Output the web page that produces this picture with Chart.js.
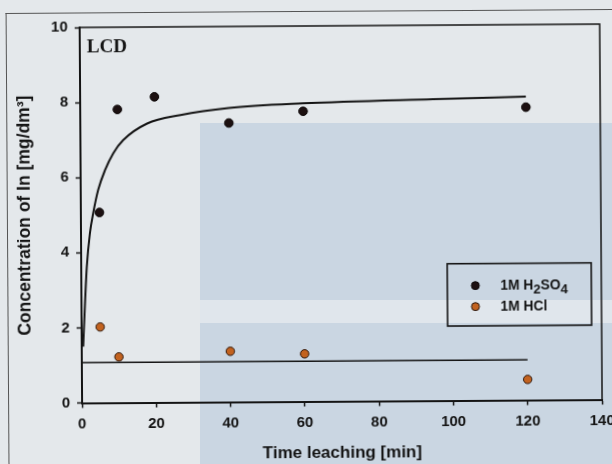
<!DOCTYPE html>
<html>
<head>
<meta charset="utf-8">
<script src="https://cdn.jsdelivr.net/npm/chart.js@4.4.0/dist/chart.umd.min.js"></script>
<style>
html,body{margin:0;padding:0;}
body{width:612px;height:464px;position:relative;overflow:hidden;background:#e4e8eb;}
.bg{position:absolute;}
#frame{position:absolute;left:7px;top:11px;width:640px;height:480px;border-left:1.3px solid #555;border-top:1.3px solid #555;transform:rotate(-0.37deg);transform-origin:299px 221px;}
#wrap{position:absolute;left:0;top:0;width:612px;height:464px;transform:rotate(-0.37deg);transform-origin:306px 232px;}
</style>
</head>
<body>
<div class="bg" style="left:200px;top:123px;width:412px;height:341px;background:#cad6e2"></div>
<div class="bg" style="left:200px;top:300px;width:412px;height:23px;background:#e0e6ec"></div>
<div id="frame"></div>
<div id="wrap"><canvas id="c" width="612" height="464"></canvas></div>
<script>
// ---- data ----
const timeH2SO4 = [5, 10, 20, 40, 60, 120];
const concH2SO4 = [5.07, 7.81, 8.14, 7.43, 7.73, 7.80];
const timeHCl = [5, 10, 40, 60, 120];
const concHCl = [2.02, 1.22, 1.35, 1.27, 0.55];
const fitTimeH2SO4 = [0.4, 0.65, 1.0, 1.5, 2.4, 3.3, 4.7, 6.6, 8.8, 11.5, 18, 27, 40, 60, 95, 120];
const fitConcH2SO4 = [1.5, 2.03, 2.74, 3.62, 4.52, 5.04, 5.67, 6.2, 6.64, 6.99, 7.43, 7.65, 7.83, 7.94, 8.03, 8.08];
const fitTimeHCl = [0, 120];
const fitConcHCl = [1.07, 1.07];
const xTicks = [0, 20, 40, 60, 80, 100, 120, 140];
const yTicks = [0, 2, 4, 6, 8, 10];
const seriesLabels = ['1M H₂SO₄', '1M HCl'];
const panelLabel = 'LCD';
const xTitle = 'Time leaching [min]';
const yTitle = 'Concentration of In [mg/dm³]';

const pts = (xs, ys) => xs.map((v, i) => ({x: v, y: ys[i]}));
const SANS = "'Liberation Sans', Arial, sans-serif";
const INK = '#141414';

function drawRich(ctx, text, x, y, size) {
  const subs = '₀₁₂₃₄₅₆₇₈₉';
  let cx = x;
  for (const ch of text) {
    const k = subs.indexOf(ch);
    if (k >= 0) {
      ctx.font = `bold ${size * 0.95}px ${SANS}`;
      ctx.fillText(String(k), cx, y + size * 0.32);
      cx += ctx.measureText(String(k)).width;
    } else {
      ctx.font = `bold ${size}px ${SANS}`;
      ctx.fillText(ch, cx, y);
      cx += ctx.measureText(ch).width;
    }
  }
}

const decorPlugin = {
  id: 'decor',
  afterDraw(chart) {
    const {ctx, chartArea: ca} = chart;
    ctx.save();
    // top and right frame
    ctx.strokeStyle = INK;
    ctx.lineWidth = 1.5;
    ctx.beginPath();
    ctx.moveTo(ca.left, ca.top);
    ctx.lineTo(ca.right, ca.top);
    ctx.lineTo(ca.right, ca.bottom);
    ctx.stroke();
    // panel label
    ctx.fillStyle = INK;
    ctx.font = "bold 19px 'Liberation Serif', 'Times New Roman', serif";
    ctx.textBaseline = 'alphabetic';
    ctx.textAlign = 'left';
    ctx.fillText(panelLabel, ca.left + 7, ca.top + 25);
    // legend box
    const bx = ca.right - 154, by = ca.top + 238.7, bw = 144, bh = 62.3;
    ctx.lineWidth = 1.6;
    ctx.strokeRect(bx, by, bw, bh);
    const rows = [22, 43];
    const ds = [chart.data.datasets[0], chart.data.datasets[1]];
    ds.forEach((d, i) => {
      const yy = by + rows[i];
      ctx.beginPath();
      ctx.arc(bx + 28, yy, 4, 0, Math.PI * 2);
      ctx.fillStyle = d.backgroundColor;
      ctx.fill();
      ctx.lineWidth = 1;
      ctx.strokeStyle = d.borderColor;
      ctx.stroke();
      ctx.fillStyle = INK;
      ctx.textBaseline = 'middle';
      drawRich(ctx, seriesLabels[i], bx + 53, yy, 13.8);
    });
    ctx.restore();
  }
};

new Chart(document.getElementById('c'), {
  type: 'scatter',
  data: {
    datasets: [
      {label: seriesLabels[0], data: pts(timeH2SO4, concH2SO4), backgroundColor: '#1c1011', borderColor: '#0a0505', borderWidth: 1, pointRadius: 4.3, order: 1},
      {label: seriesLabels[1], data: pts(timeHCl, concHCl), backgroundColor: '#c2621f', borderColor: '#2a1408', borderWidth: 1, pointRadius: 4.2, order: 1},
      {label: 'fit H2SO4', data: pts(fitTimeH2SO4, fitConcH2SO4), showLine: true, borderColor: INK, borderWidth: 2, pointRadius: 0, cubicInterpolationMode: 'monotone', fill: false, order: 2},
      {label: 'fit HCl', data: pts(fitTimeHCl, fitConcHCl), showLine: true, borderColor: INK, borderWidth: 1.6, pointRadius: 0, fill: false, order: 2}
    ]
  },
  options: {
    responsive: false,
    animation: false,
    devicePixelRatio: 1,
    layout: {padding: {top: 26, right: 11, left: 0, bottom: 0}},
    plugins: {legend: {display: false}, tooltip: {enabled: false}},
    scales: {
      x: {
        type: 'linear', min: 0, max: 140,
        afterBuildTicks: s => { s.ticks = xTicks.map(v => ({value: v})); },
        afterFit: s => { s.height = 62.5; s.paddingLeft = 0; s.paddingRight = 0; },
        grid: {display: true, drawOnChartArea: false, drawTicks: true, tickLength: 5, tickColor: INK, tickWidth: 1.5},
        border: {display: true, color: INK, width: 2},
        ticks: {color: INK, font: {family: SANS, weight: 'bold', size: 15}, padding: 7.5, maxRotation: 0, autoSkip: false},
        title: {display: true, text: xTitle, color: INK, font: {family: SANS, weight: 'bold', size: 17}, padding: {top: 0, bottom: 0}}
      },
      y: {
        type: 'linear', min: 0, max: 10,
        afterBuildTicks: s => { s.ticks = yTicks.map(v => ({value: v})); },
        afterFit: s => { s.width = 81; s.paddingTop = 0; s.paddingBottom = 0; },
        grid: {display: true, drawOnChartArea: false, drawTicks: true, tickLength: 5, tickColor: INK, tickWidth: 1.5},
        border: {display: true, color: INK, width: 2},
        ticks: {color: INK, font: {family: SANS, weight: 'bold', size: 15}, padding: 7, autoSkip: false},
        title: {display: true, text: yTitle, color: INK, font: {family: SANS, weight: 'bold', size: 17.5}, padding: {top: 14.5, bottom: 0}}
      }
    }
  },
  plugins: [decorPlugin]
});
</script>
</body>
</html>
